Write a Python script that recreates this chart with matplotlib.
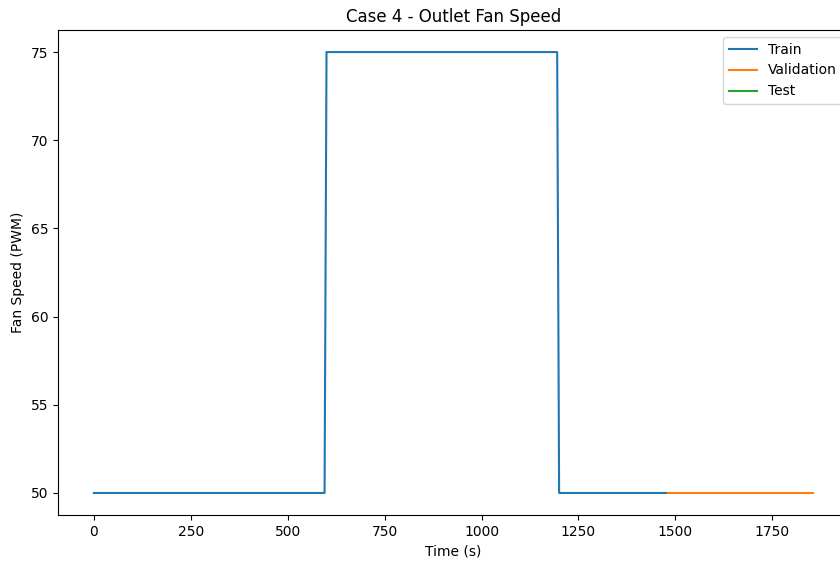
import matplotlib
matplotlib.use("Agg")
import matplotlib.pyplot as plt

train_t = [0, 595, 600, 1195, 1200, 1480]
train_v = [50, 50, 75, 75, 50, 50]
val_t = [1480, 1855]
val_v = [50, 50]
test_t = []
test_v = []

fig = plt.figure(figsize=(8.4, 5.62), dpi=100)
ax = fig.add_axes([0.069, 0.0836, 0.9417, 0.863])
ax.plot(train_t, train_v, label="Train")
ax.plot(val_t, val_v, label="Validation")
ax.plot(test_t, test_v, label="Test")
ax.set_title("Case 4 - Outlet Fan Speed")
ax.set_xlabel("Time (s)")
ax.set_ylabel("Fan Speed (PWM)")
ax.legend(loc="upper right")
fig.savefig("out.png", dpi=100)
